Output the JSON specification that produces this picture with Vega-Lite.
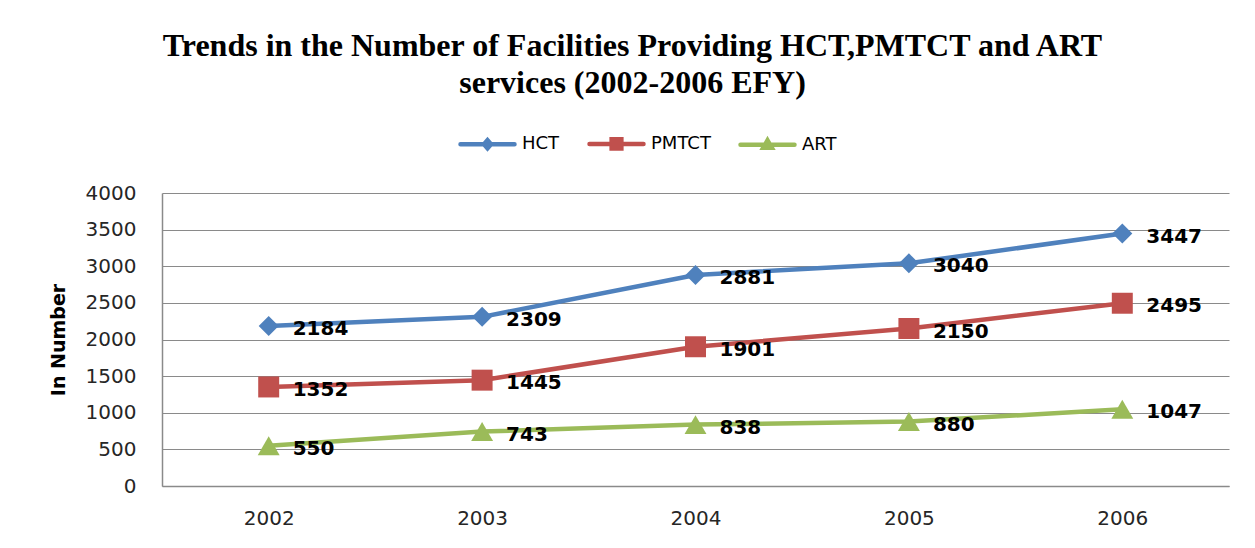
{
  "$schema": "https://vega.github.io/schema/vega-lite/v6.json",
  "width": 1067,
  "height": 293,
  "autosize": {"type": "none"},
  "padding": {"left": 162, "top": 193, "right": 26, "bottom": 62},
  "background": "white",
  "config": {"view": {"stroke": null}},
  "title": {
    "text": ["Trends in the Number of Facilities Providing HCT,PMTCT  and ART", "services (2002-2006 EFY)"],
    "font": "Liberation Serif",
    "fontSize": 32,
    "fontWeight": "bold",
    "color": "#000000",
    "anchor": "middle",
    "dx": -63,
    "lineHeight": 37,
    "offset": 14
  },
  "data": {
    "values": [
      {"year": "2002", "series": "HCT", "value": 2184},
      {"year": "2003", "series": "HCT", "value": 2309},
      {"year": "2004", "series": "HCT", "value": 2881},
      {"year": "2005", "series": "HCT", "value": 3040},
      {"year": "2006", "series": "HCT", "value": 3447},
      {"year": "2002", "series": "PMTCT", "value": 1352},
      {"year": "2003", "series": "PMTCT", "value": 1445},
      {"year": "2004", "series": "PMTCT", "value": 1901},
      {"year": "2005", "series": "PMTCT", "value": 2150},
      {"year": "2006", "series": "PMTCT", "value": 2495},
      {"year": "2002", "series": "ART", "value": 550},
      {"year": "2003", "series": "ART", "value": 743},
      {"year": "2004", "series": "ART", "value": 838},
      {"year": "2005", "series": "ART", "value": 880},
      {"year": "2006", "series": "ART", "value": 1047}
    ]
  },
  "encoding": {
    "x": {
      "field": "year",
      "type": "ordinal",
      "scale": {"type": "point", "padding": 0.5},
      "axis": {
        "title": null,
        "labelAngle": 0,
        "labelFont": "DejaVu Sans",
        "labelFontSize": 20,
        "labelColor": "#262626",
        "labelPadding": 22,
        "ticks": false,
        "grid": false,
        "domain": true,
        "domainColor": "#8a8a8a",
        "domainWidth": 1.5
      }
    },
    "y": {
      "field": "value",
      "type": "quantitative",
      "scale": {"domain": [0, 4000], "nice": false},
      "axis": {
        "title": "In Number",
        "titleFont": "DejaVu Sans",
        "titleFontSize": 19,
        "titleFontWeight": "bold",
        "titleColor": "#000000",
        "titleX": -94,
        "titleY": 146.5,
        "values": [0, 500, 1000, 1500, 2000, 2500, 3000, 3500, 4000],
        "format": "d",
        "labelFont": "DejaVu Sans",
        "labelFontSize": 20,
        "labelColor": "#262626",
        "labelPadding": 26,
        "ticks": false,
        "grid": true,
        "gridColor": "#8a8a8a",
        "gridWidth": 1.2,
        "domain": true,
        "domainColor": "#8a8a8a",
        "domainWidth": 1.5
      }
    }
  },
  "layer": [
    {
      "mark": {"type": "line", "strokeWidth": 4.5, "strokeJoin": "round"},
      "encoding": {
        "color": {
          "field": "series",
          "type": "nominal",
          "scale": {"domain": ["HCT", "PMTCT", "ART"], "range": ["#4F81BD", "#C0504D", "#9BBB59"]},
          "legend": {
            "orient": "none",
            "legendX": 296,
            "legendY": -79,
            "direction": "horizontal",
            "title": null,
            "symbolType": "M-1,0L1,0",
            "symbolSize": 2916,
            "symbolStrokeWidth": 4.5,
            "labelFont": "DejaVu Sans",
            "labelFontSize": 18,
            "labelColor": "#000000",
            "labelOffset": 5,
            "columnPadding": 20,
            "encode": {
              "symbols": {
                "update": {
                  "shape": {"signal": "datum.value === 'HCT' ? 'M-1,0L1,0M0,-0.15L0.13,0L0,0.15L-0.13,0Z' : datum.value === 'PMTCT' ? 'M-1,0L1,0M-0.18,-0.17L0.18,-0.17L0.18,0.17L-0.18,0.17Z' : 'M-1,0L1,0M0,-0.16L0.16,0.12L-0.16,0.12Z'"},
                  "fill": {"scale": "color", "field": "value"},
                  "stroke": {"scale": "color", "field": "value"},
                  "strokeCap": {"value": "round"},
                  "strokeWidth": {"value": 4.5},
                  "opacity": {"value": 1}
                }
              }
            }
          }
        }
      }
    },
    {
      "transform": [{"filter": "datum.series === 'HCT'"}],
      "mark": {"type": "point", "filled": true, "opacity": 1, "size": 400, "shape": "diamond", "color": "#4F81BD"}
    },
    {
      "transform": [{"filter": "datum.series === 'PMTCT'"}],
      "mark": {"type": "point", "filled": true, "opacity": 1, "size": 440, "shape": "square", "color": "#C0504D"}
    },
    {
      "transform": [{"filter": "datum.series === 'ART'"}],
      "mark": {"type": "point", "filled": true, "opacity": 1, "size": 480, "shape": "triangle-up", "color": "#9BBB59"}
    },
    {
      "mark": {"type": "text", "align": "left", "baseline": "middle", "dx": 24, "dy": 3, "font": "DejaVu Sans", "fontSize": 20, "fontWeight": "bold", "color": "#000000"},
      "encoding": {
        "text": {"field": "value", "type": "quantitative"}
      }
    }
  ]
}
